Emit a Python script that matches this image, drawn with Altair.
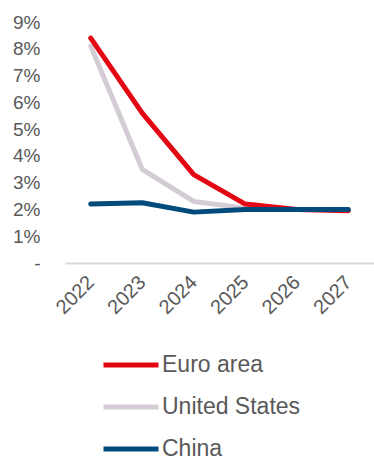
import altair as alt
import pandas as pd

years = ["2022", "2023", "2024", "2025", "2026", "2027"]
euro_area = [8.4, 5.6, 3.3, 2.2, 2.0, 1.95]
united_states = [8.1, 3.5, 2.3, 2.05, 2.0, 2.0]
china = [2.2, 2.25, 1.9, 2.0, 2.0, 2.0]

series_names = ["Euro area", "United States", "China"]
series_colors = ["#E30613", "#D3CCD4", "#004A7C"]

rows = []
for name, vals in [("United States", united_states), ("Euro area", euro_area), ("China", china)]:
    for y, v in zip(years, vals):
        rows.append({"year": y, "value": v, "series": name})
df = pd.DataFrame(rows)

FONT = "Liberation Sans"
GREY = "#595959"

base = alt.Chart(df).mark_line(strokeWidth=5, strokeCap="round", strokeJoin="round").encode(
    x=alt.X("year:N", sort=years, title=None,
            scale=alt.Scale(paddingInner=0, paddingOuter=0.5),
            axis=alt.Axis(labelAngle=-45, labelAlign="right", labelBaseline="middle",
                          labelPadding=16, ticks=False, domainColor="#D9D9D9", domainWidth=2,
                          labelFontSize=20, labelColor=GREY, labelFont=FONT, grid=False)),
    y=alt.Y("value:Q", title=None,
            scale=alt.Scale(domain=[0, 9], nice=False),
            axis=alt.Axis(values=list(range(0, 10)), labelExpr="datum.value == 0 ? '-' : datum.value + '%'",
                          domain=False, ticks=False, grid=False, labelPadding=25,
                          labelFontSize=19, labelColor=GREY, labelFont=FONT)),
    color=alt.Color("series:N", title=None,
                    scale=alt.Scale(domain=series_names, range=series_colors),
                    legend=alt.Legend(orient="none", legendX=36, legendY=313,
                                      symbolType="stroke", symbolStrokeWidth=5, symbolSize=3025,
                                      labelFontSize=23, labelColor=GREY, labelFont=FONT,
                                      labelOffset=1, rowPadding=-11)),
)

layers = [base.transform_filter(alt.datum.series == s) for s in ["United States", "Euro area", "China"]]

chart = alt.layer(*layers).properties(
    width=309, height=241,
    autosize=alt.AutoSizeParams(type="none"),
    padding={"left": 65, "top": 22, "right": 0, "bottom": 195},
).configure_view(stroke=None)

chart.save("out.html", embed_options={"renderer": "svg", "actions": False})
